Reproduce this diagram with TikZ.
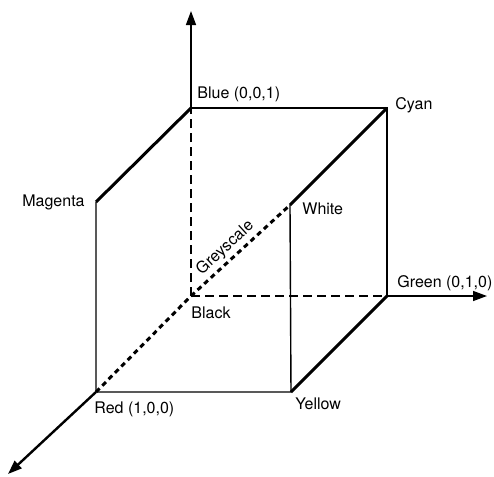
\documentclass[tikz,border=0pt]{standalone}
\usepackage{fontspec}
\setmainfont{TeX Gyre Heros}
\usetikzlibrary{arrows.meta}

\begin{document}
\begin{tikzpicture}[
  x=0.5pt,y=-0.5pt,
  font=\fontsize{8}{9.6}\selectfont,
  edge/.style={line width=.7pt},
  heavy/.style={line width=1.5pt},
  hidden/.style={line width=.7pt,dash pattern=on 4.5pt off 2.5pt},
  grey/.style={line width=1.5pt,dash pattern=on 2.5pt off 2pt},
  axis/.style={-{Triangle[length=7pt,width=5pt]},line width=.7pt},
  lbl/.style={inner sep=0pt}
]
\useasboundingbox (0,0) rectangle (494,477);
% cube corners
\coordinate (black) at (191,296);
\coordinate (blue) at (191,108);
\coordinate (cyan) at (387,108);
\coordinate (green) at (387,296);
\coordinate (magenta) at (96,202);
\coordinate (white) at (290,205);
\coordinate (red) at (96,392);
\coordinate (yellow) at (291,392);
% axis ends
\coordinate (bluetip) at (191,11);
\coordinate (greentip) at (487,296);
\coordinate (redtip) at (8,474);

% hidden edges and grey line
\draw[hidden] (black) -- (blue);
\draw[hidden] (black) -- (green);
\draw[grey] (red) -- (black);
\draw[grey] (black) -- node[pos=.43,sloped,above=1.5pt,lbl] (greylbl) {Greyscale} (white);

% visible edges
\draw[edge] (blue) -- (cyan) -- (green);
\draw[edge] (magenta) -- (red) -- (yellow) -- (white);
\draw[heavy] (blue) -- (magenta);
\draw[heavy] (white) -- (cyan);
\draw[heavy] (yellow) -- (green);

% axes
\draw[axis] (blue) -- (bluetip);
\draw[axis] (green) -- (greentip);
\draw[axis,line width=1.2pt] (red) -- (redtip);

% labels
\node[lbl,anchor=base west] (bluelbl) at ([shift={(6,-10)}]blue) {Blue (0,0,1)};
\node[lbl,anchor=base west] (cyanlbl) at ([shift={(8,1)}]cyan) {Cyan};
\node[lbl,anchor=base east] (magentalbl) at ([shift={(-11,4)}]magenta) {Magenta};
\node[lbl,anchor=base west] (whitelbl) at ([shift={(12,9)}]white) {White};
\node[lbl,anchor=base west] (greenlbl) at ([shift={(10,-9)}]green) {Green (0,1,0)};
\node[lbl,anchor=base west] (blacklbl) at ([shift={(0,22)}]black) {Black};
\node[lbl,anchor=base west] (redlbl) at ([shift={(-2,21)}]red) {Red (1,0,0)};
\node[lbl,anchor=base west] (yellowlbl) at ([shift={(4,17)}]yellow) {Yellow};
\end{tikzpicture}
\end{document}
